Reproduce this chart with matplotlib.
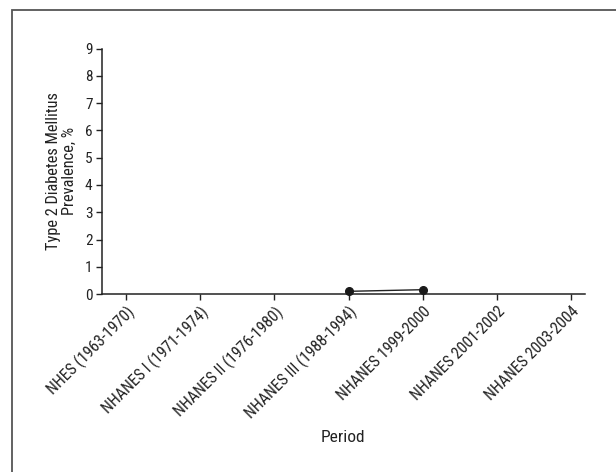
import numpy as np
import matplotlib
matplotlib.use("Agg")
import matplotlib.pyplot as plt
from matplotlib import font_manager as fm
from matplotlib.patches import Rectangle

# pick a narrow sans if one is installed, otherwise Liberation Sans
family = 'Liberation Sans'
for cand in ['Liberation Sans Narrow', 'Roboto Condensed', 'Open Sans Condensed']:
    try:
        fm.findfont(cand, fallback_to_default=False)
        family = cand
        break
    except ValueError:
        pass
plt.rcParams['font.family'] = [family, 'DejaVu Sans']

# survey periods on the x axis
periods = ['NHES (1963-1970)', 'NHANES I (1971-1974)', 'NHANES II (1976-1980)',
           'NHANES III (1988-1994)', 'NHANES 1999-2000', 'NHANES 2001-2002',
           'NHANES 2003-2004']
# prevalence values (only two surveys have data)
data_idx = [3, 4]
prevalence = [0.1, 0.16]
yticks = list(range(0, 10))

fig = plt.figure(figsize=(6.16, 4.72), dpi=100)
ax = fig.add_axes([0.165, 0.377, 0.785, 0.520])

ax.plot(data_idx, prevalence, color='#222222', lw=1.0, marker='o', ms=5.5,
        mfc='#1a1a1a', mec='#1a1a1a', clip_on=False, zorder=5)

ax.set_xlim(-0.33, 6.19)
ax.set_ylim(0, 9)
ax.set_yticks(yticks)
ax.set_xticks(range(len(periods)))
ax.set_xticklabels(periods, rotation=45, ha='right', rotation_mode='anchor',
                   fontsize=11.5, color='#222222')
ax.tick_params(axis='y', labelsize=11, length=4, width=1, color='#222222',
               labelcolor='#222222', pad=2.5)
ax.tick_params(axis='x', length=4, width=1, color='#222222', pad=3)

for s in ['top', 'right']:
    ax.spines[s].set_visible(False)
for s in ['left', 'bottom']:
    ax.spines[s].set_linewidth(1.1)
    ax.spines[s].set_color('#222222')

ax.set_ylabel('Type 2 Diabetes Mellitus\nPrevalence, %', fontsize=11.8,
              linespacing=1.05, color='#222222')
ax.yaxis.set_label_coords(-0.052, 0.5)
ax.set_xlabel('Period', fontsize=12.5, color='#222222')
ax.xaxis.set_label_coords(0.5, -0.555)

# frame around the figure (only top and left edges fall inside the image)
fig.patches.append(Rectangle((11.5, -20), 640, 472 - 10 + 20, transform=None,
                             fill=False, edgecolor='#555555', lw=1.3))

fig.savefig('out.png', dpi=100)
